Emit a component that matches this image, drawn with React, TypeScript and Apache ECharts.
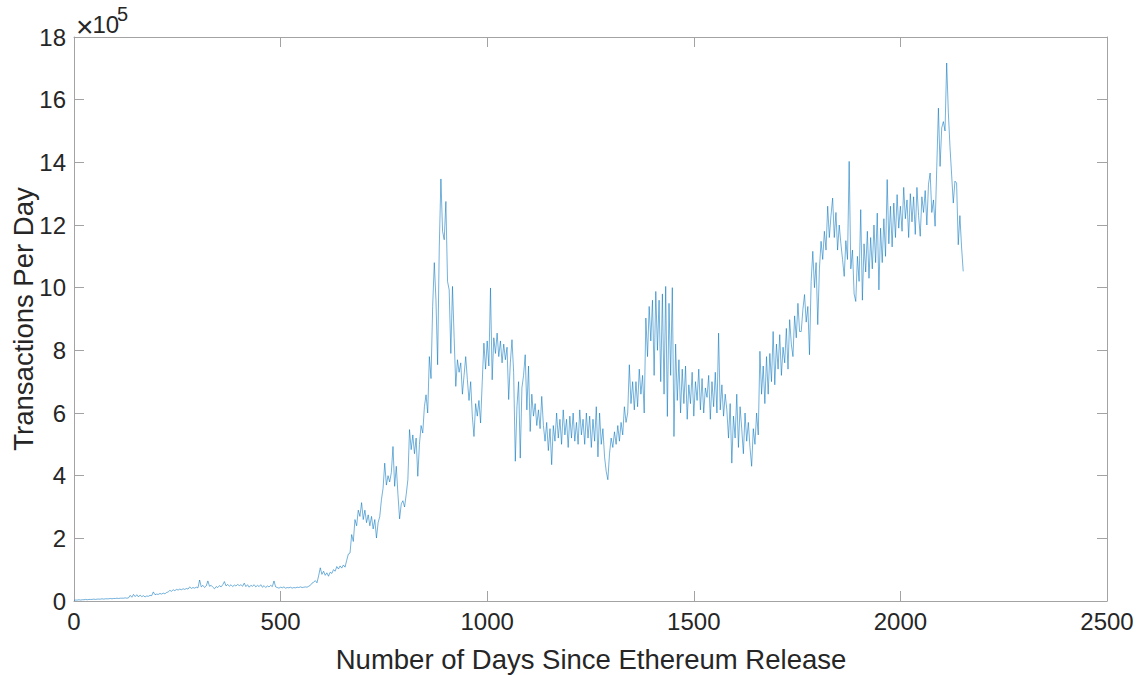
import { useEffect, useRef } from "react";
import * as echarts from "echarts";

// Daily Ethereum transaction counts, one reading every `dayStep` days, in units of 10^5.
const dayStep = 4;
const txPerDay = [
  0.02, 0.03, 0.03, 0.04, 0.03, 0.04, 0.04, 0.05, 0.04, 0.05,
  0.05, 0.05, 0.06, 0.05, 0.06, 0.06, 0.06, 0.07, 0.06, 0.07,
  0.07, 0.07, 0.08, 0.07, 0.08, 0.08, 0.09, 0.08, 0.09, 0.09,
  0.09, 0.1, 0.09, 0.1, 0.18, 0.12, 0.21, 0.14, 0.2, 0.13,
  0.19, 0.14, 0.17, 0.13, 0.16, 0.15, 0.18, 0.17, 0.29, 0.2,
  0.22, 0.21, 0.24, 0.22, 0.25, 0.23, 0.27, 0.29, 0.34, 0.31,
  0.36, 0.33, 0.37, 0.35, 0.38, 0.36, 0.39, 0.37, 0.4, 0.38,
  0.45, 0.4, 0.43, 0.41, 0.44, 0.42, 0.67, 0.45, 0.5, 0.43,
  0.48, 0.64, 0.47, 0.5, 0.44, 0.39, 0.46, 0.43, 0.49, 0.45,
  0.52, 0.62, 0.48, 0.53, 0.47, 0.52, 0.46, 0.51, 0.48, 0.53,
  0.49, 0.52, 0.47, 0.57, 0.46, 0.52, 0.44, 0.5, 0.47, 0.52,
  0.45, 0.5, 0.46, 0.52, 0.44, 0.49, 0.43, 0.48, 0.45, 0.5,
  0.46, 0.64, 0.45, 0.43, 0.41, 0.44, 0.42, 0.45, 0.41, 0.43,
  0.42, 0.44, 0.41, 0.43, 0.42, 0.44, 0.43, 0.45, 0.43, 0.44,
  0.45, 0.44, 0.47, 0.5, 0.57, 0.6, 0.65, 0.58, 0.8, 1.06,
  0.85, 0.95, 0.82, 0.9, 0.79, 0.92, 0.88, 1.0, 0.95, 1.1,
  1.02, 1.12, 1.05, 1.15, 1.08, 1.3, 1.5, 1.53, 2.12, 1.9,
  2.6, 2.4, 2.9, 2.7, 3.14, 2.6, 2.9, 2.5, 2.75, 2.4,
  2.7, 2.3, 2.6, 2.01, 2.5, 2.7, 3.23, 3.6, 4.4, 3.7,
  4.0, 3.8, 4.1, 4.93, 3.66, 4.3, 3.4, 2.62, 3.1, 3.2,
  3.0, 3.4, 3.87, 5.47, 4.83, 5.3, 4.7, 5.2, 3.98, 5.0,
  5.6, 5.36, 6.2, 6.58, 6.0, 7.8, 7.1, 9.4, 10.8, 9.6,
  7.54, 11.3, 13.47, 11.8, 11.53, 12.75, 10.2, 9.93, 7.9, 10.04,
  8.4, 6.85, 7.7, 7.3, 7.6, 6.6, 7.2, 7.8, 7.06, 6.4,
  7.0, 5.9, 5.25, 6.3, 5.9, 6.4, 5.68, 7.0, 8.23, 7.4,
  8.3, 7.5, 9.99, 7.06, 8.4, 7.9, 8.55, 7.8, 8.3, 7.6,
  8.2, 7.7, 8.1, 6.43, 7.6, 8.34, 7.3, 4.46, 6.2, 7.0,
  4.56, 6.8, 7.2, 7.86, 6.1, 7.5, 5.41, 6.6, 5.9, 6.3,
  5.6, 6.1, 5.5, 6.53, 5.6, 5.1, 5.7, 4.8, 5.5, 4.35,
  5.6, 5.1, 6.0, 5.2, 5.8, 5.0, 6.1, 5.3, 5.8, 4.9,
  5.9, 5.2, 6.0, 5.1, 5.7, 5.0, 6.1, 5.3, 5.8, 5.0,
  6.0, 5.2, 5.9, 4.9, 5.8, 5.1, 6.2, 4.6, 6.0, 5.0,
  5.5, 4.6, 4.14, 3.87, 4.7, 5.2, 4.9, 5.4, 5.0, 5.6,
  5.1, 5.7, 5.3, 6.2, 5.7, 6.0, 7.54, 6.3, 7.0, 6.1,
  7.0, 6.2, 7.4, 6.6, 7.2, 6.0, 9.03, 7.8, 9.4, 8.3,
  9.6, 7.2, 9.88, 8.0, 9.6, 7.0, 9.8, 6.6, 10.04, 5.89,
  9.5, 7.2, 10.0, 5.25, 8.2, 6.4, 7.7, 6.0, 7.4, 6.3,
  7.5, 5.8, 6.9, 6.3, 7.3, 5.9, 7.0, 6.4, 7.4, 6.1,
  7.1, 6.0, 6.8, 6.5, 7.2, 5.8, 7.0, 6.2, 7.3, 6.0,
  8.55, 6.1, 6.9, 5.9, 6.6, 6.1, 5.2, 6.3, 4.4, 5.9,
  5.2, 6.6, 4.9, 6.2, 5.5, 4.7, 6.0, 5.1, 5.7, 4.9,
  4.3, 5.5, 5.0, 6.0, 5.3, 7.97, 6.6, 7.5, 6.3, 7.8,
  6.6, 7.9, 7.0, 8.6, 6.9, 8.2, 7.4, 8.5, 7.2, 8.1,
  7.6, 8.7, 7.4, 8.98, 8.2, 7.8, 9.1, 8.4, 9.5, 8.6,
  8.6, 9.3, 9.78, 8.9, 9.4, 7.86, 10.2, 11.16, 10.0, 10.8,
  8.82, 10.6, 11.48, 10.9, 11.8, 11.2, 12.6, 11.6, 12.3, 12.86,
  11.6, 12.4, 11.2, 12.0, 11.4, 10.9, 10.36, 11.5, 10.9, 14.03,
  10.6, 11.2, 9.8, 9.56, 11.0, 10.2, 12.49, 9.6, 11.4, 10.5,
  11.8, 10.3, 11.6, 10.6, 12.0, 10.8, 12.38, 9.93, 11.9, 10.8,
  12.2, 11.0, 13.45, 11.4, 12.6, 11.3, 12.7, 11.6, 12.97, 11.9,
  12.6, 11.8, 13.2, 12.2, 12.8, 11.6, 13.0, 12.1, 12.9, 11.7,
  13.2, 12.3, 11.64, 12.9, 12.4, 13.1, 12.0, 13.3, 13.66, 12.4,
  12.8, 11.96, 13.82, 15.73, 13.87, 15.1, 15.3, 15.0, 17.17, 15.6,
  14.5, 13.6, 12.7, 13.4, 13.34, 11.37, 12.3, 11.3, 10.52,
];

const xRange = { min: 0, max: 2500, interval: 500 };
const yRange = { min: 0, max: 18, interval: 2 };
const xTitle = "Number of Days Since Ethereum Release";
const yTitle = "Transactions Per Day";
const yExponent = "5";

export default function App() {
  const ref = useRef<HTMLDivElement>(null);

  useEffect(() => {
    if (!ref.current) return;
    const chart = echarts.init(ref.current, null, { renderer: "svg" });

    const font = "'Liberation Sans', Arial, Helvetica, sans-serif";
    const axisGray = "#a3a3a3";
    const textColor = "#262626";
    const axisLine = { show: true, onZero: false, lineStyle: { color: axisGray, width: 1 } };
    const axisTick = { show: true, inside: true, length: 10, lineStyle: { color: axisGray, width: 1 } };
    const tickLabel = {
      color: textColor,
      fontSize: 24,
      fontFamily: font,
      margin: 8,
      formatter: (v: number) => String(v),
    };

    chart.setOption({
      animation: false,
      backgroundColor: "#ffffff",
      grid: { left: 74, top: 37, width: 1033, height: 564, containLabel: false },
      xAxis: [
        {
          type: "value", position: "bottom", ...xRange,
          axisLine, axisTick, splitLine: { show: false },
          axisLabel: { ...tickLabel, showMinLabel: true, showMaxLabel: true },
        },
        {
          type: "value", position: "top", ...xRange,
          axisLine, axisTick, splitLine: { show: false },
          axisLabel: { show: false },
        },
      ],
      yAxis: [
        {
          type: "value", position: "left", ...yRange,
          axisLine, axisTick, splitLine: { show: false },
          axisLabel: { ...tickLabel, showMinLabel: true, showMaxLabel: true },
        },
        {
          type: "value", position: "right", ...yRange,
          axisLine, axisTick, splitLine: { show: false },
          axisLabel: { show: false },
        },
      ],
      graphic: [
        {
          type: "text", x: 591, y: 659,
          style: { text: xTitle, fontSize: 27.5, fontFamily: font, fill: textColor, align: "center", verticalAlign: "middle" },
        },
        {
          type: "text", x: 23, y: 319, rotation: Math.PI / 2,
          style: { text: yTitle, fontSize: 27.5, fontFamily: font, fill: textColor, align: "center", verticalAlign: "middle" },
        },
        // Axis exponent: "×10" with a raised "5"
        {
          type: "text", x: 76, y: 26,
          style: { text: "\u00d7", fontSize: 30, fontFamily: font, fill: textColor, align: "left", verticalAlign: "middle" },
        },
        {
          type: "text", x: 92.5, y: 24,
          style: { text: "10", fontSize: 24, fontFamily: font, fill: textColor, align: "left", verticalAlign: "middle" },
        },
        {
          type: "text", x: 117, y: 14,
          style: { text: yExponent, fontSize: 20, fontFamily: font, fill: textColor, align: "left", verticalAlign: "middle" },
        },
      ],
      series: [
        {
          type: "line",
          xAxisIndex: 0,
          yAxisIndex: 0,
          data: txPerDay.map((v, i) => [i * dayStep, v]),
          showSymbol: false,
          symbol: "none",
          silent: true,
          lineStyle: { color: "#0072BD", width: 0.55 },
        },
      ],
    });

    return () => chart.dispose();
  }, []);

  return (
    <div
      ref={ref}
      style={{ position: "absolute", left: 0, top: 0, width: 1141, height: 675 }}
    />
  );
}
